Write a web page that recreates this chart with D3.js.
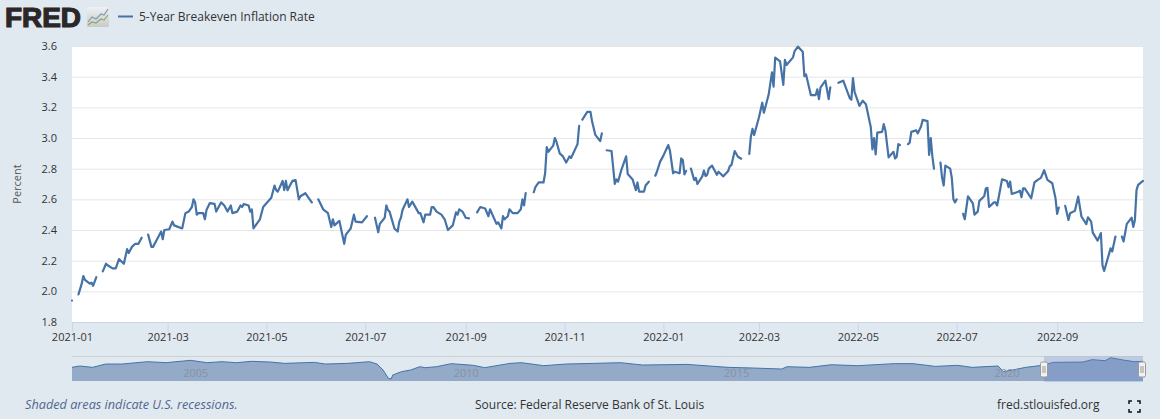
<!DOCTYPE html>
<html>
<head>
<meta charset="utf-8">
<script src="https://cdn.jsdelivr.net/npm/d3@7"></script>
<style>
    html, body { margin: 0; padding: 0; background: #e1e9f0; overflow: hidden; }
    svg { display: block; font-family: "Open Sans", sans-serif; }
    .tick text { font-family: "Open Sans", sans-serif; }
</style>
</head>
<body>
<svg id="chart" width="1160" height="419"></svg>
<script>
//// DATA

const seriesName = "5-Year Breakeven Inflation Rate";
const yTicks = [1.8, 2.0, 2.2, 2.4, 2.6, 2.8, 3.0, 3.2, 3.4, 3.6];
const xTicks = ["2021-01-01", "2021-03-01", "2021-05-01", "2021-07-01", "2021-09-01", "2021-11-01",
    "2022-01-01", "2022-03-01", "2022-05-01", "2022-07-01", "2022-09-01"];

// daily dates, null value = market holiday (line breaks there)
const dates = [
    "2021-01-01", "2021-01-03",
    "2021-01-05", "2021-01-07", "2021-01-08", "2021-01-09", "2021-01-12", "2021-01-13", "2021-01-14", "2021-01-15", "2021-01-16", "2021-01-18",
    "2021-01-20", "2021-01-22", "2021-01-23", "2021-01-26", "2021-01-28", "2021-01-30", "2021-02-02", "2021-02-04", "2021-02-05", "2021-02-07", "2021-02-09", "2021-02-11", "2021-02-13", "2021-02-15",
    "2021-02-17", "2021-02-19", "2021-02-20", "2021-02-23", "2021-02-25", "2021-02-26", "2021-02-27", "2021-03-02", "2021-03-04", "2021-03-05", "2021-03-10", "2021-03-12", "2021-03-14", "2021-03-16", "2021-03-17", "2021-03-18", "2021-03-19", "2021-03-20", "2021-03-23", "2021-03-24", "2021-03-25", "2021-03-27", "2021-03-30", "2021-03-31",
    "2021-04-03", "2021-04-05", "2021-04-07", "2021-04-09", "2021-04-10", "2021-04-13", "2021-04-15", "2021-04-16", "2021-04-17", "2021-04-20", "2021-04-21", "2021-04-22", "2021-04-23", "2021-04-27", "2021-04-29",
    "2021-05-01", "2021-05-04", "2021-05-06", "2021-05-07", "2021-05-08", "2021-05-11", "2021-05-12", "2021-05-13", "2021-05-14", "2021-05-17", "2021-05-19", "2021-05-21", "2021-05-22", "2021-05-25", "2021-05-27", "2021-05-29", "2021-05-31",
    "2021-06-02", "2021-06-05", "2021-06-08", "2021-06-10", "2021-06-11", "2021-06-12", "2021-06-15", "2021-06-18", "2021-06-19", "2021-06-22", "2021-06-24", "2021-06-25", "2021-06-29", "2021-07-02", "2021-07-05",
    "2021-07-07", "2021-07-09", "2021-07-10", "2021-07-13", "2021-07-14", "2021-07-15", "2021-07-16", "2021-07-19", "2021-07-21", "2021-07-22", "2021-07-23", "2021-07-24", "2021-07-27", "2021-07-28", "2021-07-30",
    "2021-08-03", "2021-08-04", "2021-08-06", "2021-08-07", "2021-08-10", "2021-08-11", "2021-08-12", "2021-08-14", "2021-08-17", "2021-08-19", "2021-08-21", "2021-08-24", "2021-08-26", "2021-08-27", "2021-08-28", "2021-08-30", "2021-09-01", "2021-09-03", "2021-09-06",
    "2021-09-08", "2021-09-10", "2021-09-13", "2021-09-15", "2021-09-16", "2021-09-20", "2021-09-21", "2021-09-23", "2021-09-24", "2021-09-25", "2021-09-27", "2021-09-28", "2021-09-30", "2021-10-03", "2021-10-05", "2021-10-06", "2021-10-07", "2021-10-08", "2021-10-11",
    "2021-10-13", "2021-10-14", "2021-10-16", "2021-10-19", "2021-10-20", "2021-10-21", "2021-10-22", "2021-10-25", "2021-10-26", "2021-10-27", "2021-10-29", "2021-10-31", "2021-11-02", "2021-11-04", "2021-11-05", "2021-11-09", "2021-11-10", "2021-11-11",
    "2021-11-12", "2021-11-15", "2021-11-17", "2021-11-18", "2021-11-20", "2021-11-23", "2021-11-24", "2021-11-25",
    "2021-11-27", "2021-11-30", "2021-12-02", "2021-12-03", "2021-12-04", "2021-12-06", "2021-12-09", "2021-12-10", "2021-12-13", "2021-12-15", "2021-12-16", "2021-12-17", "2021-12-20", "2021-12-21", "2021-12-23", "2021-12-24",
    "2021-12-27", "2021-12-28", "2021-12-30", "2022-01-01", "2022-01-04", "2022-01-05", "2022-01-07", "2022-01-08", "2022-01-11", "2022-01-12", "2022-01-13", "2022-01-14", "2022-01-15", "2022-01-17",
    "2022-01-18", "2022-01-20", "2022-01-21", "2022-01-22", "2022-01-25", "2022-01-26", "2022-01-27", "2022-01-28", "2022-01-29", "2022-01-31", "2022-02-03", "2022-02-04", "2022-02-07", "2022-02-10", "2022-02-11", "2022-02-12", "2022-02-14", "2022-02-16", "2022-02-18", "2022-02-21",
    "2022-02-23", "2022-02-24", "2022-02-25", "2022-02-26", "2022-03-01", "2022-03-03", "2022-03-04", "2022-03-05", "2022-03-07", "2022-03-09", "2022-03-10", "2022-03-11", "2022-03-14", "2022-03-16", "2022-03-17", "2022-03-18", "2022-03-22", "2022-03-23", "2022-03-25", "2022-03-28", "2022-03-29", "2022-03-30", "2022-04-02", "2022-04-05", "2022-04-06", "2022-04-07", "2022-04-08", "2022-04-11", "2022-04-13", "2022-04-14", "2022-04-15",
    "2022-04-19", "2022-04-22", "2022-04-26", "2022-04-27", "2022-04-28", "2022-04-29", "2022-05-02", "2022-05-04", "2022-05-06", "2022-05-09", "2022-05-10", "2022-05-11", "2022-05-12", "2022-05-13", "2022-05-16", "2022-05-17", "2022-05-18", "2022-05-20", "2022-05-23", "2022-05-24", "2022-05-25", "2022-05-26", "2022-05-27", "2022-05-30",
    "2022-06-01", "2022-06-02", "2022-06-03", "2022-06-06", "2022-06-07", "2022-06-09", "2022-06-10", "2022-06-13", "2022-06-14", "2022-06-15", "2022-06-16", "2022-06-17", "2022-06-20",
    "2022-06-21", "2022-06-22", "2022-06-23", "2022-06-24", "2022-06-27", "2022-06-28", "2022-06-29", "2022-06-30", "2022-07-01", "2022-07-04",
    "2022-07-05", "2022-07-06", "2022-07-08", "2022-07-11", "2022-07-12", "2022-07-14", "2022-07-15", "2022-07-18", "2022-07-19", "2022-07-20", "2022-07-21", "2022-07-24", "2022-07-25", "2022-07-26", "2022-07-29", "2022-08-01", "2022-08-02", "2022-08-03", "2022-08-04", "2022-08-08", "2022-08-09", "2022-08-10", "2022-08-11", "2022-08-12", "2022-08-16", "2022-08-18", "2022-08-20", "2022-08-22", "2022-08-24", "2022-08-26", "2022-08-29", "2022-08-31", "2022-09-01", "2022-09-02", "2022-09-05",
    "2022-09-06", "2022-09-08", "2022-09-09", "2022-09-12", "2022-09-14", "2022-09-16", "2022-09-19", "2022-09-20", "2022-09-22", "2022-09-23", "2022-09-26", "2022-09-28", "2022-09-29", "2022-09-30", "2022-10-04", "2022-10-05", "2022-10-07", "2022-10-10",
    "2022-10-11", "2022-10-12", "2022-10-14", "2022-10-17", "2022-10-18", "2022-10-19", "2022-10-20", "2022-10-21", "2022-10-24"
];
const values = [
    1.94, null,
    1.98, 2.05, 2.10, 2.075, 2.05, 2.057, 2.036, 2.064, 2.092, null,
    2.13, 2.18, 2.17, 2.15, 2.15, 2.21, 2.18, 2.275, 2.25, 2.29, 2.31, 2.31, 2.35, null,
    2.37, 2.29, 2.29, 2.35, 2.39, 2.34, 2.40, 2.405, 2.455, 2.43, 2.41, 2.51, 2.52, 2.55, 2.60, 2.58, 2.50, 2.51, 2.51, 2.47, 2.53, 2.575, 2.57, 2.52,
    2.58, 2.56, 2.52, 2.56, 2.51, 2.52, 2.56, 2.55, 2.57, 2.56, 2.52, 2.535, 2.41, 2.47, 2.55,
    2.575, 2.61, 2.69, 2.66, 2.65, 2.72, 2.66, 2.72, 2.66, 2.72, 2.725, 2.60, 2.62, 2.64, 2.61, 2.58, null,
    2.60, 2.535, 2.51, 2.42, 2.47, 2.43, 2.46, 2.31, 2.37, 2.41, 2.50, 2.455, 2.45, 2.49, null,
    2.48, 2.385, 2.44, 2.48, 2.56, 2.53, 2.52, 2.41, 2.39, 2.455, 2.48, 2.53, 2.60, 2.55, 2.585,
    2.51, 2.51, 2.45, 2.50, 2.50, 2.55, 2.55, 2.52, 2.50, 2.47, 2.40, 2.43, 2.515, 2.50, 2.535, 2.52, 2.48, 2.476, null,
    2.515, 2.55, 2.54, 2.49, 2.535, 2.44, 2.45, 2.41, 2.49, 2.47, 2.49, 2.535, 2.51, 2.51, 2.535, 2.60, 2.56, 2.64, null,
    2.646, 2.68, 2.71, 2.71, 2.77, 2.94, 2.91, 2.95, 3.00, 2.976, 2.90, 2.88, 2.84, 2.88, 2.87, 2.96, 3.08, null,
    3.12, 3.17, 3.17, 3.107, 3.02, 2.98, 3.03, null,
    2.92, 2.915, 2.70, 2.73, 2.715, 2.79, 2.88, 2.765, 2.73, 2.66, 2.71, 2.65, 2.65, 2.69, 2.715, null,
    2.754, 2.78, 2.846, 2.885, 2.954, 2.92, 2.77, 2.78, 2.77, 2.867, 2.856, 2.763, 2.785, null,
    2.80, 2.726, 2.74, 2.70, 2.75, 2.787, 2.752, 2.76, 2.80, 2.82, 2.76, 2.78, 2.75, 2.785, 2.817, 2.824, 2.915, 2.878, 2.865, null,
    2.896, 3.01, 3.06, 3.02, 3.135, 3.23, 3.165, 3.204, 3.285, 3.428, 3.335, 3.524, 3.50, 3.346, 3.51, 3.476, 3.526, 3.567, 3.596, 3.563, 3.404, 3.415, 3.28, 3.28, 3.317, 3.254, 3.33, 3.374, 3.254, 3.33, null,
    3.36, 3.374, 3.26, 3.25, 3.39, 3.30, 3.21, 3.243, 3.22, 3.07, 2.926, 3.00, 2.893, 3.035, 3.04, 3.09, 3.05, 2.874, 2.91, 2.867, 2.878, 2.96, 2.954, null,
    2.96, 2.97, 3.04, 3.05, 3.03, 3.075, 3.118, 3.11, 2.89, 3.00, 2.88, 2.80, null,
    2.84, 2.74, 2.69, 2.82, 2.80, 2.74, 2.60, 2.58, 2.60, null,
    2.505, 2.47, 2.62, 2.574, 2.50, 2.52, 2.59, 2.62, 2.67, 2.675, 2.55, 2.58, 2.58, 2.56, 2.73, 2.72, 2.68, 2.716, 2.635, 2.65, 2.657, 2.614, 2.672, 2.672, 2.607, 2.71, 2.727, 2.74, 2.79, 2.727, 2.705, 2.607, 2.505, 2.546, null,
    2.557, 2.466, 2.51, 2.525, 2.618, 2.488, 2.438, 2.483, 2.455, 2.383, 2.331, 2.38, 2.17, 2.133, 2.28, 2.26, 2.357, null,
    2.357, 2.325, 2.44, 2.48, 2.42, 2.466, 2.66, 2.694, 2.72
];

// navigator overview, decimal years and percent
const navYears = [2003.0, 2003.14, 2003.38, 2003.62, 2003.92, 2004.4, 2004.74, 2005.19, 2005.5, 2005.77, 2006.04, 2006.32, 2006.66, 2006.93, 2007.48, 2007.69,
    2008.1, 2008.5, 2008.64, 2008.75, 2008.85, 2008.9, 2008.93, 2009.09, 2009.26, 2009.43, 2009.53, 2009.74, 2010.01, 2010.42, 2010.63, 2011.1, 2011.31, 2011.72, 2012.13,
    2012.66, 2013.14, 2013.55, 2014.37, 2015.13, 2015.6, 2016.12, 2016.22, 2016.63, 2017.04, 2017.52, 2018.2, 2018.55, 2018.96, 2019.37, 2019.64,
    2020.12, 2020.22, 2020.39, 2020.63, 2020.94, 2021.14, 2021.69, 2021.86, 2022.1, 2022.2, 2022.44, 2022.64, 2022.81];
const navValues = [2.02, 2.24, 2.02, 2.56, 2.56, 2.94, 2.78, 3.16, 2.78, 2.94, 2.78, 3.0, 2.89, 2.67, 2.83, 2.56,
    2.67, 2.94, 2.56, 1.59, 0.24, 0.13, 0.78, 1.32, 1.59, 2.13, 1.97, 2.13, 2.62, 2.35, 1.97, 2.67, 2.78, 2.29, 2.56,
    2.67, 2.78, 2.4, 2.5, 2.02, 1.91, 1.75, 2.13, 2.02, 2.45, 2.29, 2.62, 2.62, 2.18, 2.35, 2.02,
    2.24, 1.32, 1.59, 2.02, 2.35, 2.83, 2.89, 3.27, 3.1, 3.59, 3.2, 2.94, 3.0];
const navTicks = [2005, 2010, 2015, 2020];
const navSelection = [2020.97, 2022.8];


//// SETTINGS

const plot = { left: 72, right: 1143, top: 46, bottom: 322 };
const nav = { top: 357, bottom: 381 };
const lineColor = "#4572a7";
const textColor = "#333";

const svg = d3.select("#chart");
const parseDate = d3.timeParse("%Y-%m-%d");

const xScale = d3.scaleTime()
    .domain([parseDate("2021-01-01"), parseDate("2022-10-24")])
    .range([plot.left, plot.right]);
const yScale = d3.scaleLinear()
    .domain([1.8, 3.6])
    .range([plot.bottom, plot.top]);
const navX = d3.scaleLinear()
    .domain([2003, 2022.8])
    .range([plot.left, plot.right])
    .clamp(true);
const navY = d3.scaleLinear()
    .domain([0, 3.59])
    .range([379.8, 357.7]);


//// FUNCTION CALLS

drawHeader();
drawPlot();
drawNavigator();
drawFooter();


//// FUNCTIONS

function drawHeader() {
    // FRED logo
    svg.append("text")
        .attr("x", 5).attr("y", 27)
        .attr("textLength", 76)
        .attr("lengthAdjust", "spacingAndGlyphs")
        .style("font-family", "'Liberation Sans', sans-serif")
        .style("font-weight", "bold")
        .style("font-size", "27px")
        .style("fill", "#2b2728")
        .style("stroke", "#2b2728")
        .style("stroke-width", "1.2px")
        .text("FRED");

    const gradient = svg.append("defs").append("linearGradient")
        .attr("id", "iconFill").attr("x1", 0).attr("y1", 0).attr("x2", 0).attr("y2", 1);
    gradient.append("stop").attr("offset", "0%").attr("stop-color", "#eef1f3");
    gradient.append("stop").attr("offset", "100%").attr("stop-color", "#c9cbc9");

    const icon = svg.append("g").attr("transform", "translate(87,7)");
    icon.append("rect").attr("width", 22).attr("height", 20).attr("rx", 1).attr("fill", "url(#iconFill)");
    icon.append("polyline")
        .attr("points", "1,15 5,10 9,12 14,7 17,8 21,2")
        .attr("fill", "none").attr("stroke", "#7f9ab5").attr("stroke-width", 1.2);
    icon.append("polyline")
        .attr("points", "1,18 5,15 9,16 14,12 17,13 21,8")
        .attr("fill", "none").attr("stroke", "#8fa96b").attr("stroke-width", 1.2);

    svg.append("line")
        .attr("x1", 118).attr("x2", 133).attr("y1", 16.5).attr("y2", 16.5)
        .attr("stroke", lineColor).attr("stroke-width", 2);
    svg.append("text")
        .attr("x", 139).attr("y", 21)
        .style("font-size", "12px")
        .style("fill", textColor)
        .text(seriesName);
}

function drawPlot() {
    svg.append("rect")
        .attr("x", plot.left).attr("y", plot.top)
        .attr("width", plot.right - plot.left).attr("height", plot.bottom - plot.top)
        .attr("fill", "#fff");

    const yAxis = svg.append("g")
        .attr("transform", `translate(${plot.left},0)`)
        .call(d3.axisLeft(yScale).tickValues(yTicks).tickFormat(d3.format(".1f"))
            .tickSize(-(plot.right - plot.left)).tickPadding(15));
    yAxis.select(".domain").remove();
    yAxis.selectAll(".tick line").attr("stroke", "#e6e6e6");
    yAxis.selectAll(".tick text").style("font-size", "11px").style("fill", textColor);

    const xAxis = svg.append("g")
        .attr("transform", `translate(0,${plot.bottom})`)
        .call(d3.axisBottom(xScale).tickValues(xTicks.map(parseDate))
            .tickFormat(d3.timeFormat("%Y-%m")).tickSize(10).tickSizeOuter(0).tickPadding(1));
    xAxis.select(".domain").attr("stroke", "#ccd6eb");
    xAxis.selectAll(".tick line").attr("stroke", "#ccd6eb");
    xAxis.selectAll(".tick text").style("font-size", "11px").style("fill", textColor);

    svg.append("text")
        .attr("transform", "translate(21,184) rotate(-90)")
        .attr("text-anchor", "middle")
        .style("font-size", "11px")
        .style("fill", "#555")
        .text("Percent");

    const line = d3.line()
        .defined((d) => d.value !== null)
        .x((d) => xScale(d.date))
        .y((d) => yScale(d.value));

    const rows = dates.map((d, i) => ({ date: parseDate(d), value: values[i] }));
    svg.append("path")
        .datum(rows)
        .attr("d", line)
        .attr("fill", "none")
        .attr("stroke", lineColor)
        .attr("stroke-width", 2.2)
        .attr("stroke-linejoin", "round")
        .attr("stroke-linecap", "round");
}

function drawNavigator() {
    const rows = navYears.map((d, i) => ({ year: d, value: navValues[i] }));

    svg.append("line")
        .attr("x1", plot.left).attr("x2", plot.right)
        .attr("y1", nav.top - 0.5).attr("y2", nav.top - 0.5)
        .attr("stroke", "#cfd1d2");

    svg.selectAll(".nav-grid")
        .data(navTicks)
        .enter()
        .append("line")
        .attr("class", "nav-grid")
        .attr("x1", (d) => navX(d)).attr("x2", (d) => navX(d))
        .attr("y1", nav.top).attr("y2", nav.bottom)
        .attr("stroke", "#e6e6e6").attr("stroke-opacity", 0.5);

    const area = d3.area()
        .x((d) => navX(d.year))
        .y0(nav.bottom)
        .y1((d) => navY(d.value));
    const navLine = d3.line()
        .x((d) => navX(d.year))
        .y((d) => navY(d.value));

    svg.append("path").datum(rows).attr("d", area).attr("fill", "#93aac9");
    svg.append("path").datum(rows).attr("d", navLine)
        .attr("fill", "none").attr("stroke", lineColor).attr("stroke-width", 1);

    svg.selectAll(".nav-label")
        .data(navTicks)
        .enter()
        .append("text")
        .attr("class", "nav-label")
        .attr("x", (d) => navX(d) + 3)
        .attr("y", 377)
        .style("font-size", "11px")
        .style("fill", "#89929f")
        .text((d) => d);

    // selected range
    const x0 = navX(navSelection[0]);
    const x1 = navX(navSelection[1]);
    svg.append("rect")
        .attr("x", x0).attr("y", nav.top - 0.5)
        .attr("width", x1 - x0).attr("height", nav.bottom - nav.top + 1.5)
        .attr("fill", "#6685c2").attr("fill-opacity", 0.3);

    [x0, x1 - 1].forEach(function (x) {
        const handle = svg.append("g").attr("transform", `translate(${x},369.5)`);
        handle.append("rect")
            .attr("x", -3.5).attr("y", -7.5).attr("width", 7).attr("height", 15).attr("rx", 1.5)
            .attr("fill", "#f2f2f2").attr("stroke", "#999");
        [-1, 1].forEach(function (dx) {
            handle.append("line")
                .attr("x1", dx).attr("x2", dx).attr("y1", -3.5).attr("y2", 3.5)
                .attr("stroke", "#999");
        });
    });
}

function drawFooter() {
    svg.append("text")
        .attr("x", 25).attr("y", 409)
        .style("font-size", "12.7px").style("font-style", "italic")
        .style("fill", "#51678f")
        .text("Shaded areas indicate U.S. recessions.");
    svg.append("text")
        .attr("x", 475).attr("y", 409)
        .style("font-size", "12px").style("fill", textColor)
        .text("Source: Federal Reserve Bank of St. Louis");
    svg.append("text")
        .attr("x", 997).attr("y", 409)
        .style("font-size", "12px").style("fill", textColor)
        .text("fred.stlouisfed.org");

    // fullscreen icon
    const cx = 1134.5, cy = 406.5, r = 5.5, c = 3;
    [[-1, -1], [1, -1], [-1, 1], [1, 1]].forEach(function (s) {
        svg.append("path")
            .attr("d", `M${cx + s[0] * r},${cy + s[1] * (r - c)}V${cy + s[1] * r}H${cx + s[0] * (r - c)}`)
            .attr("fill", "none").attr("stroke", "#111").attr("stroke-width", 1.5);
    });
}
</script>
</body>
</html>
